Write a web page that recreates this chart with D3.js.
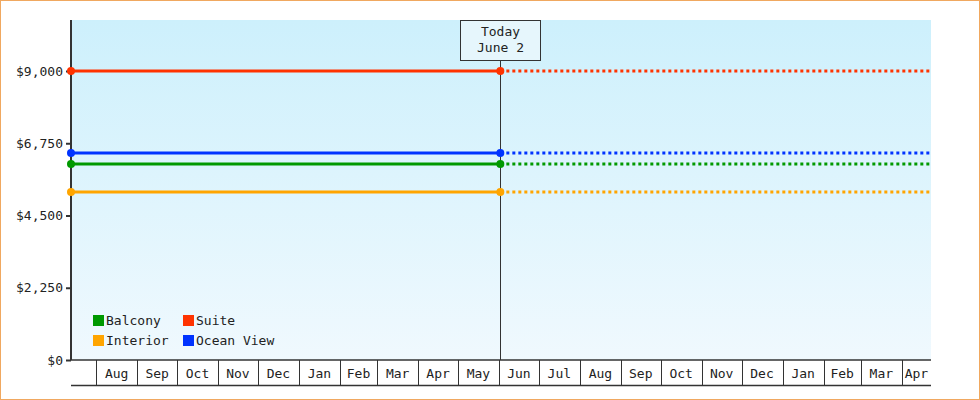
<!DOCTYPE html>
<html><head><meta charset="utf-8">
<script src="https://cdn.jsdelivr.net/npm/d3@7"></script>
<style>body{margin:0}svg{display:block}text{font-family:"DejaVu Sans Mono",monospace;font-size:13px;fill:#222}</style>
</head><body><svg width="980" height="400"></svg>
<script>
const series = ["Balcony","Suite","Interior","Ocean View"];
const values = [6100, 9000, 5230, 6450];
const colors = ["#009900","#ff3300","#ffa500","#0033ff"];
const yTicks = [0,2250,4500,6750,9000];
const startDate = new Date(2024,6,13), todayDate = new Date(2025,5,2), endDate = new Date(2026,3,23);
const todayLabel = ["Today","June 2"];

const svg = d3.select("svg");
const L=71,R=931,T=20,B=360;
svg.append("rect").attr("x",0.5).attr("y",0.5).attr("width",979).attr("height",399).attr("fill","#fff").attr("stroke","#f0a860");
const x = d3.scaleTime().domain([startDate,endDate]).range([L,R]);
const y = d3.scaleLinear().domain([0,9000]).range([B,71]);
const g = svg.append("defs").append("linearGradient").attr("id","bg").attr("x1",0).attr("y1",0).attr("x2",0).attr("y2",1);
g.append("stop").attr("offset",0).attr("stop-color","#cdf0fc");
g.append("stop").attr("offset",1).attr("stop-color","#f0f9fe");
svg.append("rect").attr("x",L).attr("y",T).attr("width",R-L).attr("height",B-T).attr("fill","url(#bg)");

// y axis
const ya = svg.append("g").attr("transform",`translate(${L},0)`).call(d3.axisLeft(y).tickValues(yTicks).tickSize(5).tickFormat(d=>"$"+d3.format(",")(d)));
ya.select(".domain").remove();
ya.selectAll("line").attr("stroke","#333").attr("stroke-width",2);
ya.selectAll("text").style("font-family","DejaVu Sans Mono").style("font-size","13px").attr("fill","#222");
svg.append("line").attr("x1",L).attr("x2",L).attr("y1",T).attr("y2",B).attr("stroke","#333").attr("stroke-width",2);

// x axis months
const months = x.ticks(d3.timeMonth.every(1));
const xa = svg.append("g");
xa.append("line").attr("x1",L).attr("x2",R).attr("y1",B).attr("y2",B).attr("stroke","#333").attr("stroke-width",1.5);
xa.append("line").attr("x1",L).attr("x2",R).attr("y1",385.5).attr("y2",385.5).attr("stroke","#333").attr("stroke-width",1.5);
months.forEach(m=>{
  const x0=x(m), x1=Math.min(R,x(d3.timeMonth.offset(m,1)));
  xa.append("line").attr("x1",Math.round(x0)+0.5).attr("x2",Math.round(x0)+0.5).attr("y1",B).attr("y2",385).attr("stroke","#333");
  xa.append("text").attr("x",(x0+x1)/2).attr("y",378).attr("text-anchor","middle").text(d3.timeFormat("%b")(m));
});

// today line
const tx = Math.round(x(todayDate))+0.5;
svg.append("line").attr("x1",tx).attr("x2",tx).attr("y1",T).attr("y2",B).attr("stroke","#333").attr("stroke-width",1);

// series
series.forEach((s,i)=>{
  const yy=y(values[i]);
  svg.append("line").attr("x1",x(todayDate)).attr("x2",R).attr("y1",yy).attr("y2",yy).attr("stroke",colors[i]).attr("stroke-width",3).attr("stroke-dasharray","3,3");
  svg.append("line").attr("x1",L).attr("x2",x(todayDate)).attr("y1",yy).attr("y2",yy).attr("stroke",colors[i]).attr("stroke-width",3);
  [startDate,todayDate].forEach(d=>svg.append("circle").attr("cx",x(d)).attr("cy",yy).attr("r",4).attr("fill",colors[i]));
});

// today box
svg.append("rect").attr("x",tx-40).attr("y",20.5).attr("width",80).attr("height",40).attr("fill","#e6f6fc").attr("stroke","#333");
todayLabel.forEach((t,i)=>svg.append("text").attr("x",tx).attr("y",36+i*16).attr("text-anchor","middle").text(t));

// legend
series.forEach((s,i)=>{
  const lx=93+(i%2)*90, ly=315+Math.floor(i/2)*20;
  svg.append("rect").attr("x",lx).attr("y",ly).attr("width",11).attr("height",11).attr("fill",colors[i]);
  svg.append("text").attr("x",lx+13).attr("y",ly+10).text(s);
});
</script></body></html>
